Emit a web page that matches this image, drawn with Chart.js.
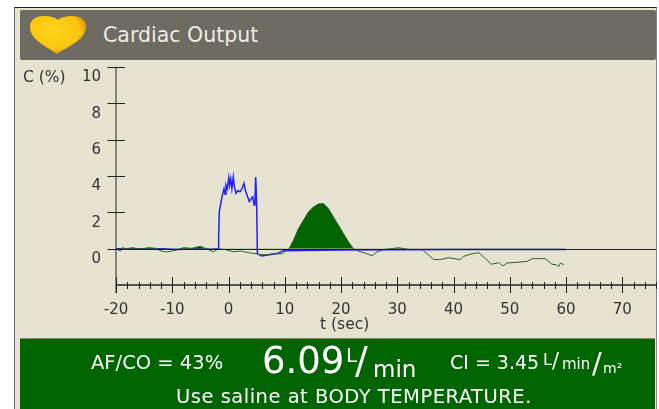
<!DOCTYPE html>
<html>
<head>
<meta charset="utf-8">
<title>Cardiac Output</title>
<script src="https://cdn.jsdelivr.net/npm/chart.js@4"></script>
<style>
    html, body { margin: 0; padding: 0; background: #fff; }
    #page { position: relative; width: 659px; height: 409px; overflow: hidden; }
    #frame { position: absolute; left: 14px; top: 7px; width: 641px; height: 402px; background: #e6e3d0; border-top: 1px solid #222; border-left: 1px solid #666; border-right: 1px solid #888; box-sizing: content-box; }
    #header { position: absolute; left: 20px; top: 10px; width: 636px; height: 50px; background: #6e6b62; border-radius: 2px; }
    #result { position: absolute; left: 20px; top: 338px; width: 635px; height: 71px; background: #006400; border-top: 1px solid #8a8a70; box-sizing: border-box; }
    #chart { position: absolute; left: 0; top: 0; filter: blur(0.35px); }
    .label { position: absolute; white-space: nowrap; font-family: "DejaVu Sans", sans-serif; color: #fff; line-height: 1; }
    .axis { font-size: 15.5px; color: #333; }
    svg { position: absolute; left: 28px; top: 14px; }
</style>
</head>
<body>
<div id="page">
    <div id="frame"></div>
    <div id="header"></div>
    <svg width="60" height="42" viewBox="0 0 60 42">
        <defs>
            <radialGradient id="heartFill" cx="0.42" cy="0.4" r="0.68">
                <stop offset="0" stop-color="#ffd61c"/>
                <stop offset="0.7" stop-color="#fcc40e"/>
                <stop offset="1" stop-color="#c98408"/>
            </radialGradient>
        </defs>
        <path d="M29 40 C22 34 2 27 2 13 C2 5 9 2 16 2 C22 2 27 3 30 6 C33 3 39 2 45 2 C53 2 58 6 58 13 C58 27 36 34 29 40 Z" fill="url(#heartFill)"/>
    </svg>
    <div class="label" style="left:103px;top:25px;font-size:20.5px;color:#eeece4;">Cardiac Output</div>
    <div id="result"></div>
    <canvas id="chart" width="659" height="409"></canvas>
    <div class="label axis" style="left:23px;top:70px;">C (%)</div>
    <div class="label axis" style="left:320px;top:317px;">t (sec)</div>
    <div class="label" style="left:91px;top:353px;font-size:19.5px;">AF/CO = 43%</div>
    <div class="label" style="left:262px;top:342px;font-size:37px;">6.09</div>
    <div class="label" style="left:346px;top:345px;font-size:20px;">L</div>
    <div class="label" style="left:355px;top:341px;font-size:38px;">/</div>
    <div class="label" style="left:373px;top:358px;font-size:23px;">min</div>
    <div class="label" style="left:450px;top:353px;font-size:19px;">CI = 3.45</div>
    <div class="label" style="left:543px;top:352px;font-size:16px;">L</div>
    <div class="label" style="left:552px;top:351px;font-size:21px;">/</div>
    <div class="label" style="left:562px;top:357px;font-size:15px;">min</div>
    <div class="label" style="left:592px;top:349px;font-size:29px;">/</div>
    <div class="label" style="left:603px;top:361px;font-size:14px;">m²</div>
    <div class="label" style="left:176px;top:387px;font-size:19.5px;letter-spacing:0.5px;">Use saline at BODY TEMPERATURE.</div>
</div>
<script>
const xTickLabels = [-20, -10, 0, 10, 20, 30, 40, 50, 60, 70];
const yTickLabels = [10, 8, 6, 4, 2, 0];

const indicatorTimes = [-20, -12, -9, -6, -3, -1.85, -1.75, -1.64, -1.16, -0.8, -0.6, -0.45, -0.2, 0.04, 0.2, 0.39, 0.6, 0.85, 1.05, 1.34, 1.7, 2.05, 2.4, 2.76, 3.0, 3.24, 3.7, 4.0, 4.3, 4.55, 4.7, 4.84, 5.02, 5.13, 5.9, 7, 8.6, 9.76, 20, 30, 40, 50, 60];
const indicatorValues = [0, 0, -0.05, 0, -0.03, 0, 0.6, 2.03, 2.85, 3.3, 3.0, 3.5, 3.3, 3.9, 3.5, 3.85, 3.3, 3.95, 3.4, 3.05, 3.2, 3.13, 3.3, 3.6, 3.2, 3.0, 2.6, 2.75, 2.85, 2.4, 2.6, 3.95, 2.3, -0.27, -0.4, -0.35, -0.27, -0.12, -0.08, -0.06, -0.05, -0.05, -0.05];

const dilutionTimes = [-20, -19.2, -18.9, -18.2, -17, -15.8, -14.2, -13, -11.8, -11, -9.5, -8, -6.5, -5, -4, -2.7, -1.8, -0.6, 0.9, 2.1, 3.9, 5.1, 5.7, 6.9, 8, 9.6, 10.2, 10.77, 11.54, 12.43, 13.32, 14.21, 15.1, 15.99, 16.88, 17.77, 18.66, 19.55, 20.44, 21.33, 22.22, 23.05, 24.6, 25.5, 26.4, 27.6, 30.2, 32.3, 34.4, 35.3, 36.5, 37.65, 39.1, 41.2, 41.8, 43.3, 44.5, 45.7, 46.7, 48, 48.8, 49.5, 51.3, 53.1, 54, 56.3, 57.5, 58.3, 58.7, 59, 59.6];
const dilutionValues = [0, -0.13, 0.05, 0, 0.05, -0.02, 0.05, 0.02, -0.15, -0.18, -0.09, 0.05, 0.02, 0.13, 0, -0.17, -0.02, -0.05, -0.17, -0.13, -0.24, -0.28, -0.33, -0.33, -0.28, -0.28, -0.13, 0, 0.46, 1.1, 1.56, 2.02, 2.29, 2.46, 2.48, 2.2, 1.74, 1.29, 0.83, 0.37, 0, -0.13, -0.28, -0.39, -0.18, -0.05, 0.05, -0.05, -0.05, -0.28, -0.6, -0.6, -0.5, -0.6, -0.42, -0.28, -0.22, -0.55, -0.86, -0.77, -0.95, -0.79, -0.75, -0.7, -0.55, -0.55, -0.86, -0.88, -0.99, -0.79, -0.88];

const axisColor = '#222';

// axes cross their ticks in the original, which the built-in ticks can't do
const crossedAxes = {
    id: 'crossedAxes',
    afterDatasetsDraw(chart) {
        const { ctx, chartArea, scales } = chart;
        const { x, y } = scales;
        const zero = Math.round(y.getPixelForValue(0)) + 0.5;
        ctx.save();
        ctx.strokeStyle = axisColor;
        ctx.lineWidth = 1;
        ctx.beginPath();
        ctx.moveTo(chartArea.left, zero);
        ctx.lineTo(chartArea.right, zero);
        ctx.moveTo(chartArea.left, chartArea.top);
        ctx.lineTo(chartArea.left, chartArea.bottom + 8);
        yTickLabels.forEach((val) => {
            const py = Math.round(y.getPixelForValue(val)) + 0.5;
            ctx.moveTo(chartArea.left - 8.5, py);
            ctx.lineTo(chartArea.left + 9, py);
        });
        x.ticks.forEach((tick) => {
            const px = Math.round(x.getPixelForValue(tick.value)) + 0.5;
            const isMajor = xTickLabels.includes(tick.value);
            ctx.moveTo(px, chartArea.bottom - (isMajor ? 8 : 3));
            ctx.lineTo(px, chartArea.bottom + (isMajor ? 8 : 4));
        });
        ctx.stroke();
        ctx.lineWidth = 1.4;
        ctx.beginPath();
        ctx.moveTo(chartArea.left, chartArea.bottom);
        ctx.lineTo(chartArea.right, chartArea.bottom);
        ctx.stroke();
        ctx.restore();
    },
};

new Chart(document.getElementById('chart'), {
    type: 'line',
    data: {
        datasets: [
            {
                label: 'Dilution',
                data: dilutionTimes.map((t, i) => ({ x: t, y: dilutionValues[i] })),
                borderColor: '#2f5f2f',
                borderWidth: 1,
                pointRadius: 0,
                tension: 0,
                fill: { target: { value: 0 }, above: '#006400', below: 'rgba(0,0,0,0)' },
            },
            {
                label: 'Indicator',
                data: indicatorTimes.map((t, i) => ({ x: t, y: indicatorValues[i] })),
                borderColor: '#1f1fff',
                borderWidth: 1.5,
                pointRadius: 0,
                tension: 0,
                fill: false,
            },
        ],
    },
    options: {
        responsive: false,
        animation: false,
        layout: { padding: { left: 0, right: 3, top: 67, bottom: 0 } },
        plugins: { legend: { display: false }, tooltip: { enabled: false } },
        scales: {
            x: {
                type: 'linear',
                min: -20,
                max: 76,
                grid: { display: false },
                border: { display: false },
                afterFit: (scale) => {
                    scale.height = 124;
                    scale.paddingLeft = 0;
                    scale.paddingRight = 0;
                },
                ticks: {
                    stepSize: 2,
                    autoSkip: false,
                    maxRotation: 0,
                    padding: 8,
                    color: '#333',
                    font: { family: 'DejaVu Sans', size: 15 },
                    callback: (val) => (xTickLabels.includes(val) ? String(val) : ''),
                },
            },
            y: {
                min: -2,
                max: 10,
                grid: { display: false },
                border: { display: false },
                afterFit: (scale) => { scale.width = 116; },
                ticks: {
                    stepSize: 2,
                    autoSkip: false,
                    padding: 7,
                    color: '#333',
                    font: { family: 'DejaVu Sans', size: 15, lineHeight: 1.4 },
                    // empty first line drops the number just under its tick
                    callback: (val) => (yTickLabels.includes(val) ? ['', String(val)] : ''),
                },
            },
        },
    },
    plugins: [crossedAxes],
});
</script>
</body>
</html>
